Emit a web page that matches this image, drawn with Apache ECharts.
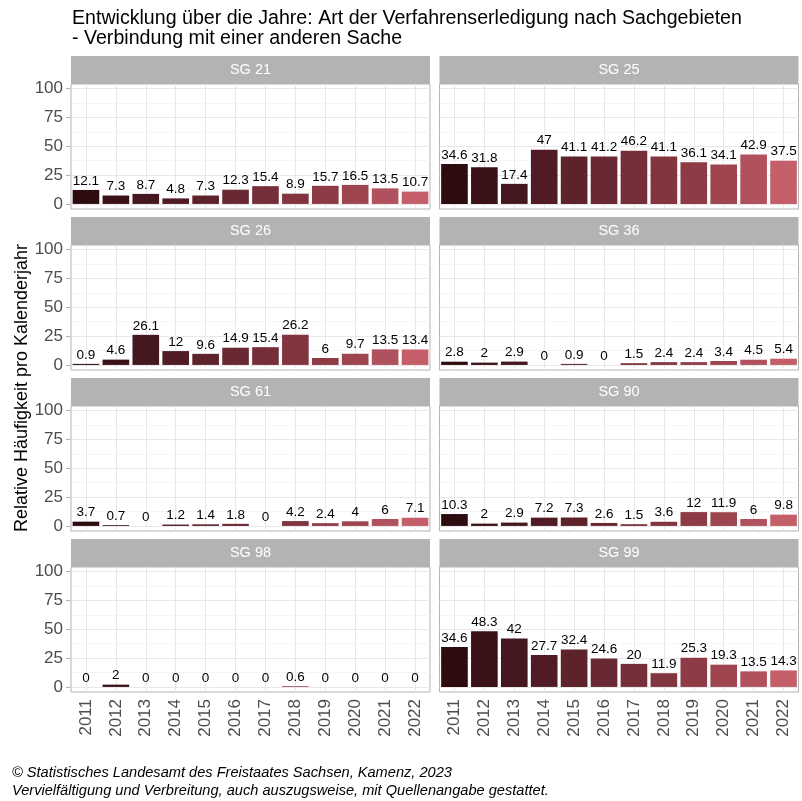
<!DOCTYPE html>
<html><head><meta charset="utf-8">
<script src="https://cdn.jsdelivr.net/npm/echarts@6/dist/echarts.min.js"></script>
<style>html,body{margin:0;padding:0;background:#fff}#c{width:802px;height:801px}</style>
</head><body><div id="c"></div>
<script>
const years = ['2011','2012','2013','2014','2015','2016','2017','2018','2019','2020','2021','2022'];
const panelNames = ['SG 21','SG 25','SG 26','SG 36','SG 61','SG 90','SG 98','SG 99'];
const sg21 = [12.1,7.3,8.7,4.8,7.3,12.3,15.4,8.9,15.7,16.5,13.5,10.7];
const sg25 = [34.6,31.8,17.4,47,41.1,41.2,46.2,41.1,36.1,34.1,42.9,37.5];
const sg26 = [0.9,4.6,26.1,12,9.6,14.9,15.4,26.2,6,9.7,13.5,13.4];
const sg36 = [2.8,2,2.9,0,0.9,0,1.5,2.4,2.4,3.4,4.5,5.4];
const sg61 = [3.7,0.7,0,1.2,1.4,1.8,0,4.2,2.4,4,6,7.1];
const sg90 = [10.3,2,2.9,7.2,7.3,2.6,1.5,3.6,12,11.9,6,9.8];
const sg98 = [0,2,0,0,0,0,0,0.6,0,0,0,0];
const sg99 = [34.6,48.3,42,27.7,32.4,24.6,20,11.9,25.3,19.3,13.5,14.3];
const yTicks = [0,25,50,75,100];
const yMinor = [12.5,37.5,62.5,87.5];
const yearColors = ['#2e0b0e','#3a1117','#45171e','#501b24','#5e222b','#6a2832','#762e38','#82343f','#8e3b46','#9e4550','#b0525d','#c45e69'];

const panelData = [sg21, sg25, sg26, sg36, sg61, sg90, sg98, sg99];
const FONT = 'Liberation Sans, Arial, Helvetica, sans-serif';
const colLeft = [71, 439.5];
const colWidth = 359;
const rowTop = [56, 217, 378, 539];
const stripH = 28;
const plotH = 125;

const grids = [], xAxes = [], yAxes = [], series = [], graphics = [];
panelData.forEach((vals, i) => {
  const r = Math.floor(i / 2), c = i % 2;
  const top = rowTop[r] + stripH;
  grids.push({left: colLeft[c], top: top, width: colWidth, height: plotH,
    show: true, backgroundColor: '#fff', borderColor: '#b3b3b3', borderWidth: 1, containLabel: false});
  const bottomRow = r === 3;
  xAxes.push({type: 'category', gridIndex: i, data: years,
    axisLine: {show: false},
    axisTick: {show: bottomRow, alignWithLabel: true, length: 5, lineStyle: {color: '#b3b3b3'}},
    axisLabel: {show: bottomRow, rotate: 90, fontSize: 17, color: '#4d4d4d', fontFamily: FONT, margin: 7},
    splitLine: {show: false}});
  yAxes.push({type: 'value', gridIndex: i, min: -4.4, max: 104,
    axisLine: {show: false},
    axisTick: {show: c === 0, customValues: yTicks, length: 5, lineStyle: {color: '#b3b3b3'}},
    axisLabel: {show: c === 0, customValues: yTicks, fontSize: 17, color: '#4d4d4d', fontFamily: FONT, margin: 8},
    splitLine: {show: false}});
  series.push({type: 'line', xAxisIndex: i, yAxisIndex: i, data: [], z: 1, silent: true,
    markLine: {silent: true, z: 1, symbol: ['none','none'], label: {show: false}, animation: false,
      lineStyle: {color: '#e8e8e8', width: 1, type: 'solid'},
      emphasis: {disabled: true},
      data: yTicks.map(v => ({yAxis: v})).concat(years.map(y => ({xAxis: y})))}});
  series.push({type: 'line', xAxisIndex: i, yAxisIndex: i, data: [], z: 1, silent: true,
    markLine: {silent: true, z: 1, symbol: ['none','none'], label: {show: false}, animation: false,
      lineStyle: {color: '#f0f0f0', width: 0.7, type: 'solid'},
      emphasis: {disabled: true},
      data: yMinor.map(v => ({yAxis: v}))}});
  series.push({type: 'bar', xAxisIndex: i, yAxisIndex: i, z: 3, barWidth: '89%', animation: false,
    data: vals.map((v, k) => ({value: v, itemStyle: {color: yearColors[k]}})),
    label: {show: true, position: 'top', distance: 2, fontSize: 13.5, color: '#000', fontFamily: FONT}});
  graphics.push({type: 'rect', shape: {x: colLeft[c], y: rowTop[r], width: colWidth, height: stripH},
    style: {fill: '#b3b3b3'}});
  graphics.push({type: 'text', x: colLeft[c] + colWidth / 2, y: rowTop[r] + stripH / 2,
    style: {text: panelNames[i], fill: '#fff', fontSize: 14.5, fontFamily: FONT, align: 'center', verticalAlign: 'middle'}});
});

graphics.push({type: 'text', x: 72, y: 8, style: {text: 'Entwicklung über die Jahre: Art der Verfahrenserledigung nach Sachgebieten\n- Verbindung mit einer anderen Sache',
  fill: '#000', fontSize: 19.6, lineHeight: 20.5, fontFamily: FONT, align: 'left', verticalAlign: 'top'}});
graphics.push({type: 'text', x: 22, y: 388, rotation: Math.PI / 2,
  style: {text: 'Relative Häufigkeit pro Kalenderjahr', fill: '#000', fontSize: 18, fontFamily: FONT, align: 'center', verticalAlign: 'middle'}});
graphics.push({type: 'text', x: 12, y: 764, style: {text: '© Statistisches Landesamt des Freistaates Sachsen, Kamenz, 2023\nVervielfältigung und Verbreitung, auch auszugsweise, mit Quellenangabe gestattet.',
  fill: '#000', fontSize: 14.6, lineHeight: 18, fontStyle: 'italic', fontFamily: FONT, align: 'left', verticalAlign: 'top'}});

const chart = echarts.init(document.getElementById('c'), null, {renderer: 'canvas'});
chart.setOption({animation: false, backgroundColor: '#fff', grid: grids, xAxis: xAxes, yAxis: yAxes, series: series, graphic: graphics});
</script></body></html>
